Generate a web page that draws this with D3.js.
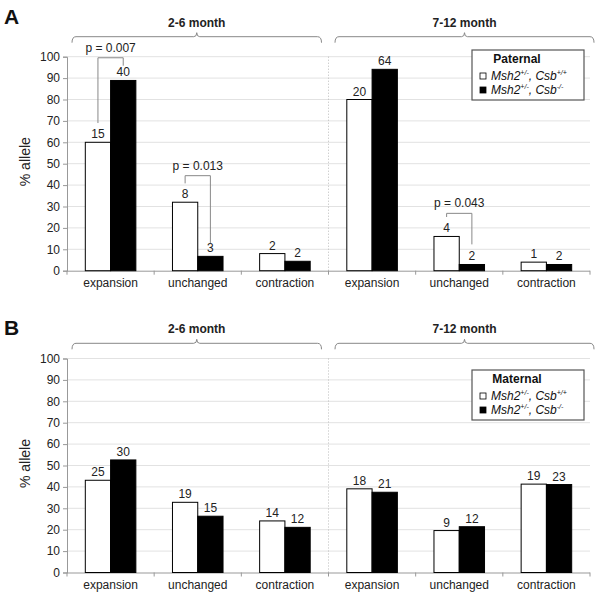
<!DOCTYPE html>
<html><head><meta charset="utf-8">
<script src="https://cdn.jsdelivr.net/npm/d3@7"></script>
<style>
body{margin:0;background:#fff;}
svg{font-family:"Liberation Sans",Arial,Helvetica,sans-serif;}
</style></head>
<body><svg id="chart" width="600" height="597"></svg>
<script>
// ---------- data ----------
const periods = ["2-6 month", "7-12 month"];
const categories = ["expansion", "unchanged", "contraction"];
const seriesNames = ["Msh2+/-, Csb+/+", "Msh2+/-, Csb-/-"];
const yTicks = [0, 10, 20, 30, 40, 50, 60, 70, 80, 90, 100];

// Paternal (panel A) – % allele, order: 2-6 exp, unch, contr, 7-12 exp, unch, contr
const paternalWT = [60, 32, 8, 80, 16, 4];
const paternalKO = [88.9, 6.7, 4.4, 94.1, 2.9, 2.9];
const paternalWTn = [15, 8, 2, 20, 4, 1];
const paternalKOn = [40, 3, 2, 64, 2, 2];

// Maternal (panel B)
const maternalWT = [43.1, 32.8, 24.1, 39.1, 19.6, 41.3];
const maternalKO = [52.6, 26.3, 21.1, 37.5, 21.4, 41.1];
const maternalWTn = [25, 19, 14, 18, 9, 19];
const maternalKOn = [30, 15, 12, 21, 12, 23];

// p-value brackets on panel A (index into the six groups, levels in % units)
const pIndex = [0, 1, 4];
const pText = ["p = 0.007", "p = 0.013", "p = 0.043"];
const pTop = [99.5, 44.4, 26.8];
const pLeft = [69, 40.8, 25.1];
const pRight = [95.8, 12.8, 12.3];

// ---------- drawing ----------
const svg = d3.select("#chart");
const groups = [];
periods.forEach(p => categories.forEach(c => groups.push(p + "|" + c)));

const x0 = d3.scaleBand().domain(groups).range([67, 590]).paddingInner(0.42).paddingOuter(0.21);
const x1 = d3.scaleBand().domain(seriesNames).range([0, x0.bandwidth()]);

function drawPanel(cfg) {
  const g = svg.append("g");
  const y = d3.scaleLinear().domain([0, 100]).range([cfg.bottom, cfg.bottom - 214]);
  const left = 67, right = 590;

  // gridlines
  g.append("g").selectAll("line").data(yTicks.filter(t => t > 0)).join("line")
    .attr("x1", left).attr("x2", right)
    .attr("y1", d => y(d)).attr("y2", d => y(d))
    .attr("stroke", "#e2e2e2").attr("stroke-width", 1);

  // dotted divider between periods
  const midX = x0(groups[3]) - x0.step() * x0.paddingInner() / 2;
  g.append("line").attr("x1", midX).attr("x2", midX)
    .attr("y1", y(100)).attr("y2", y(0))
    .attr("stroke", "#bbb").attr("stroke-dasharray", "1,2");

  // y axis
  const yAxis = d3.axisLeft(y).tickValues(yTicks).tickSize(4).tickPadding(3);
  const ya = g.append("g").attr("transform", `translate(${left},0)`).call(yAxis);
  ya.select(".domain").attr("stroke", "#999");
  ya.selectAll(".tick line").attr("stroke", "#999");
  ya.selectAll("text").attr("font-size", 12).attr("fill", "#222")
    .attr("font-family", "Liberation Sans, Arial, sans-serif");

  // x axis
  const xa = g.append("g").attr("transform", `translate(0,${cfg.bottom})`)
    .call(d3.axisBottom(x0).tickSize(0).tickPadding(8).tickFormat(d => d.split("|")[1]));
  xa.select(".domain").attr("stroke", "#999").attr("d", `M${left},0.5H${right}`);
  xa.selectAll("text").attr("font-size", 12).attr("fill", "#222")
    .attr("font-family", "Liberation Sans, Arial, sans-serif");
  // boundary ticks
  g.append("g").selectAll("line").data(d3.range(7)).join("line")
    .attr("x1", i => left + i * x0.step()).attr("x2", i => left + i * x0.step())
    .attr("y1", cfg.bottom).attr("y2", cfg.bottom + 4)
    .attr("stroke", "#999");

  // bars
  const rows = groups.map((k, i) => ({ k, vals: [
    { s: seriesNames[0], v: cfg.wt[i], n: cfg.wtn[i] },
    { s: seriesNames[1], v: cfg.ko[i], n: cfg.kon[i] } ] }));
  const gg = g.append("g").selectAll("g").data(rows).join("g")
    .attr("transform", d => `translate(${x0(d.k)},0)`);
  gg.selectAll("rect").data(d => d.vals).join("rect")
    .attr("x", d => x1(d.s)).attr("width", x1.bandwidth())
    .attr("y", d => y(d.v)).attr("height", d => y(0) - y(d.v))
    .attr("fill", (d, i) => i === 0 ? "#fff" : "#000")
    .attr("stroke", "#000").attr("stroke-width", 1);
  gg.selectAll("text").data(d => d.vals).join("text")
    .attr("x", d => x1(d.s) + x1.bandwidth() / 2).attr("y", d => y(d.v) - 4)
    .attr("text-anchor", "middle").attr("font-size", 12).attr("fill", "#222")
    .text(d => d.n);

  // period braces
  periods.forEach((p, pi) => {
    const x_start = pi === 0 ? 72 : 335;
    const x_end = pi === 0 ? 321.5 : 594;
    const cx = (x_start + x_end) / 2;
    const yt = cfg.braceY;
    g.append("path")
      .attr("d", `M${x_start},${yt + 6} Q${x_start},${yt} ${x_start + 4},${yt} L${cx - 3},${yt} Q${cx},${yt} ${cx},${yt - 4} Q${cx},${yt} ${cx + 3},${yt} L${x_end - 4},${yt} Q${x_end},${yt} ${x_end},${yt + 6}`)
      .attr("fill", "none").attr("stroke", "#888").attr("stroke-width", 1);
    g.append("text").attr("x", cx).attr("y", yt - 10)
      .attr("text-anchor", "middle").attr("font-size", 12).attr("font-weight", "bold")
      .attr("fill", "#222").text(p);
  });

  // panel letter
  g.append("text").attr("x", 4).attr("y", cfg.letterY).attr("font-size", 21)
    .attr("font-weight", "bold").attr("fill", "#111").text(cfg.letter);

  // y label
  g.append("text").attr("transform", `translate(30,${(y(0) + y(100)) / 2 - 2}) rotate(-90)`)
    .attr("text-anchor", "middle").attr("font-size", 14)
    .attr("fill", "#222").text("% allele");

  // legend
  const lg = g.append("g");
  const lx = 472, ly = cfg.legendY;
  lg.append("rect").attr("x", lx).attr("y", ly).attr("width", 112).attr("height", 50)
    .attr("fill", "#fff").attr("stroke", "#555").attr("stroke-width", 1.2);
  lg.append("text").attr("x", 517).attr("y", ly + 13).attr("text-anchor", "middle")
    .attr("font-size", 12).attr("font-weight", "bold").attr("fill", "#111").text(cfg.title);
  const sups = [["+/-", "+/+"], ["+/-", "-/-"]];
  seriesNames.forEach((s, i) => {
    const ey = ly + 26 + i * 14;
    lg.append("rect").attr("x", 480).attr("y", ey - 3).attr("width", 6).attr("height", 6)
      .attr("fill", i === 0 ? "#fff" : "#000").attr("stroke", "#000").attr("stroke-width", 0.8);
    const t = lg.append("text").attr("x", 491).attr("y", ey + 4)
      .attr("font-size", 12).attr("font-style", "italic").attr("fill", "#111");
    t.append("tspan").text("Msh2");
    t.append("tspan").attr("font-size", 7).attr("dy", -5).text(sups[i][0]);
    t.append("tspan").attr("dy", 5).text(", Csb");
    t.append("tspan").attr("font-size", 7).attr("dy", -5).text(sups[i][1]);
  });

  // p-value brackets
  if (cfg.pvals) {
    pIndex.forEach((gi, j) => {
      const k = groups[gi];
      const xa_ = x0(k) + x1(seriesNames[0]) + x1.bandwidth() / 2;
      const xb_ = x0(k) + x1(seriesNames[1]) + x1.bandwidth() / 2;
      g.append("path")
        .attr("d", `M${xa_},${y(pLeft[j])}V${y(pTop[j])}H${xb_}V${y(pRight[j])}`)
        .attr("fill", "none").attr("stroke", "#888").attr("stroke-width", 1);
      g.append("text").attr("x", (xa_ + xb_) / 2).attr("y", y(pTop[j]) - 6)
        .attr("text-anchor", "middle").attr("font-size", 12).attr("fill", "#222")
        .text(pText[j]);
    });
  }
}

drawPanel({ bottom: 270.7, wt: paternalWT, ko: paternalKO, wtn: paternalWTn, kon: paternalKOn,
  braceY: 36.7, letter: "A", letterY: 24, title: "Paternal", legendY: 50, pvals: true });
drawPanel({ bottom: 572.5, wt: maternalWT, ko: maternalKO, wtn: maternalWTn, kon: maternalKOn,
  braceY: 343.3, letter: "B", letterY: 335, title: "Maternal", legendY: 370, pvals: false });
</script></body></html>
